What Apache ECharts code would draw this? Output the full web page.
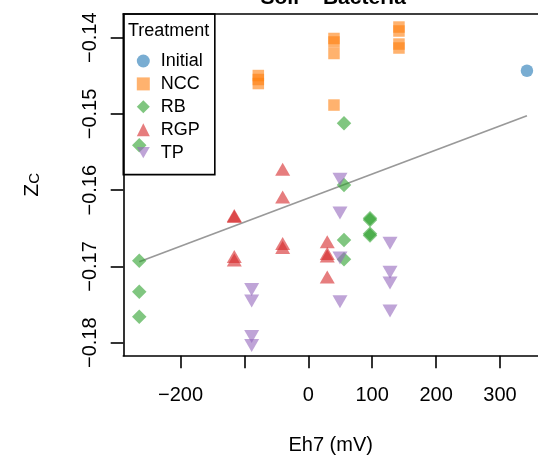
<!DOCTYPE html>
<html><head><meta charset="utf-8">
<script src="https://cdn.jsdelivr.net/npm/echarts@6/dist/echarts.min.js"></script>
<style>html,body{margin:0;padding:0;background:#fff}#c{width:538px;height:457px}</style>
</head><body><div id="c"></div>
<script>
// ---- data (Eh7 in mV, Zc) ----
const initialX = [342.2];
const initialY = [-0.14433];
const nccX = [-78.2, -78.2, -78.2, 40.2, 40.2, 40.2, 40.2, 141.9, 141.9, 141.9, 141.9];
const nccY = [-0.14496, -0.14548, -0.14601, -0.1401, -0.14056, -0.14207, -0.14883, -0.1386, -0.13912, -0.14083, -0.14135];
const rbX = [-264.5, -264.5, -264.5, -264.5, 55.9, 55.9, 55.9, 55.9, 96.6, 96.6, 96.6, 96.6];
const rbY = [-0.16925, -0.17331, -0.17659, -0.15411, -0.15123, -0.15932, -0.16653, -0.16906, -0.16369, -0.16391, -0.16572, -0.16594];
const rgpX = [-115.8, -115.8, -115.8, -115.8, -40.1, -40.1, -40.1, -40.1, 29.7, 29.7, 29.7, 29.7];
const rgpY = [-0.16332, -0.16345, -0.16870, -0.16915, -0.15725, -0.16089, -0.16699, -0.16751, -0.16675, -0.16830, -0.16863, -0.17138];
const tpX = [-88.6, -88.6, -88.6, -88.6, 49.6, 49.6, 49.6, 49.6, 127.9, 127.9, 127.9, 127.9];
const tpY = [-0.17302, -0.17453, -0.17919, -0.18037, -0.15856, -0.16299, -0.16889, -0.17462, -0.16696, -0.17077, -0.17217, -0.17584];
// fitted regression line end points
const fitX = [-264.5, 342.2];
const fitY = [-0.16938, -0.15023];
// ticks
const xTicks = [-200, -100, 0, 100, 200, 300];
const xLabels = [-200, 0, 100, 200, 300];
const yTicks = [-0.18, -0.17, -0.16, -0.15, -0.14];
const categories = ['Initial', 'NCC', 'RB', 'RGP', 'TP'];

const FONT = "'Liberation Sans', Arial, Helvetica, sans-serif";
const xMin = -289.5, xMax = 359.5, yMin = -0.1817, yMax = -0.13689;
function pts(xs, ys) { return xs.map((x, i) => [x, ys[i]]); }
const minus = v => (v < 0 ? '\u2212' : '');

const chart = echarts.init(document.getElementById('c'), null, {renderer: 'canvas'});
const axisLineStyle = {color: '#000', width: 1.6};
chart.setOption({
  animation: false,
  backgroundColor: '#fff',
  title: [
    {text: 'Soil \u2212 Bacteria', left: 260.5, top: -12, padding: 0,
     textStyle: {fontSize: 21, fontWeight: 'bold', fontFamily: FONT, color: '#000', lineHeight: 21}},
    {text: 'Treatment', left: 128, top: 22, padding: 0,
     textStyle: {fontSize: 18, fontWeight: 'normal', fontFamily: FONT, color: '#000', lineHeight: 18}}
  ],
  grid: {left: 123.3, top: 14, right: 0, bottom: 101.3, containLabel: false, outerBoundsMode: 'none'},
  legend: {
    orient: 'vertical', left: 123.3, top: 14, padding: [38, 12, 13, 13.5],
    itemWidth: 13, itemHeight: 13, itemGap: 4.9,
    borderColor: '#000', borderWidth: 1.6, selectedMode: false,
    textStyle: {fontSize: 18, fontFamily: FONT, color: '#000', padding: [0, 0, 0, 6]},
    data: categories
  },
  xAxis: [
    {type: 'value', position: 'bottom', min: xMin, max: xMax,
     axisLine: {show: true, onZero: false, lineStyle: axisLineStyle},
     splitLine: {show: false},
     axisTick: {show: true, length: 12.6, customValues: xTicks, lineStyle: axisLineStyle},
     axisLabel: {customValues: xLabels, fontSize: 20, fontFamily: FONT, color: '#000', margin: 30,
       formatter: v => minus(v) + Math.abs(v)},
     name: 'Eh7 (mV)', nameLocation: 'middle', nameGap: 80,
     nameTextStyle: {fontSize: 20, fontFamily: FONT, color: '#000', verticalAlign: 'top'}},
    {type: 'value', position: 'top', min: xMin, max: xMax,
     axisLine: {show: true, onZero: false, lineStyle: axisLineStyle},
     axisTick: {show: false}, axisLabel: {show: false}, splitLine: {show: false}}
  ],
  yAxis: {
    type: 'value', min: yMin, max: yMax,
    axisLine: {show: true, onZero: false, lineStyle: axisLineStyle},
    splitLine: {show: false},
    axisTick: {show: true, length: 12.6, customValues: yTicks, lineStyle: axisLineStyle},
    axisLabel: {customValues: yTicks, rotate: 90, fontSize: 20, fontFamily: FONT, color: '#000', margin: 23,
      formatter: v => minus(v) + Math.abs(v).toFixed(2)},
    name: '{z|Z}{c|C}', nameLocation: 'middle', nameRotate: 90, nameGap: 81,
    nameTextStyle: {fontFamily: FONT, color: '#000',
      rich: {
        z: {fontSize: 21, lineHeight: 21, verticalAlign: 'top', fontFamily: FONT, color: '#000'},
        c: {fontSize: 15, lineHeight: 15, padding: [10, 0, 0, 0], verticalAlign: 'bottom', fontFamily: FONT, color: '#000'}
      }}
  },
  series: [
    {type: 'line', data: pts(fitX, fitY), symbol: 'none', silent: true, z: 1,
     lineStyle: {color: '#999999', width: 1.8}},
    {name: 'Initial', type: 'scatter', symbol: 'circle', symbolSize: 12.5, data: pts(initialX, initialY),
     itemStyle: {color: 'rgba(31,119,180,0.75)'}},
    {name: 'NCC', type: 'scatter', symbol: 'rect', symbolSize: 11.5, data: pts(nccX, nccY),
     itemStyle: {color: 'rgba(255,127,14,0.75)'}},
    {name: 'RB', type: 'scatter', symbol: 'diamond', symbolSize: 14.5, data: pts(rbX, rbY),
     itemStyle: {color: 'rgba(44,160,44,0.75)'}},
    {name: 'RGP', type: 'scatter', symbol: 'triangle', symbolSize: [15, 13], data: pts(rgpX, rgpY),
     itemStyle: {color: 'rgba(214,39,40,0.75)'}},
    {name: 'TP', type: 'scatter', symbol: 'path://M0,0L14,0L7,12Z', symbolSize: [15, 13], data: pts(tpX, tpY),
     itemStyle: {color: 'rgba(148,103,189,0.75)'}}
  ]
});
</script>
</body></html>
